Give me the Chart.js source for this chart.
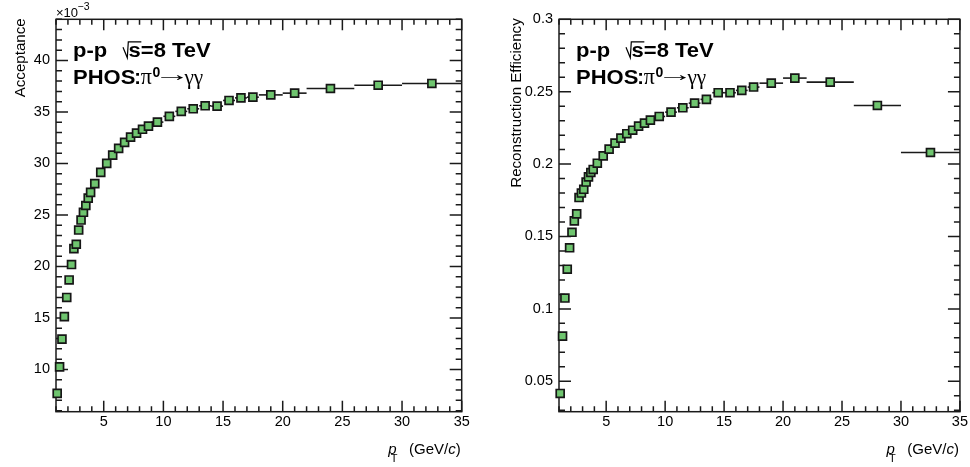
<!DOCTYPE html>
<html>
<head>
<meta charset="utf-8">
<script src="https://cdn.jsdelivr.net/npm/chart.js@4/dist/chart.umd.min.js"></script>
<style>
  html, body { margin: 0; padding: 0; background: #fff; }
  #wrap { position: relative; width: 970px; height: 467px; }
  .pad { position: absolute; top: 0; width: 485px; height: 467px; }
</style>
</head>
<body>
<div id="wrap">
  <div class="pad" style="left:0"><canvas id="accChart" width="485" height="467"></canvas></div>
  <div class="pad" style="left:485px"><canvas id="effChart" width="485" height="467"></canvas></div>
</div>
<script>
// pT bin edges, GeV/c
const ptEdges = [1.0, 1.2, 1.4, 1.6, 1.8, 2.0, 2.2, 2.4, 2.6, 2.8, 3.0, 3.2, 3.4, 3.6, 3.8, 4.0,
    4.5, 5.0, 5.5, 6.0, 6.5, 7.0, 7.5, 8.0, 8.5, 9.0,
    10, 11, 12, 13, 14, 15, 16, 17, 18, 20, 22, 26, 30, 35];

// geometric acceptance per bin, in units of 10^-3
const acceptance = [7.68, 10.25, 12.95, 15.13, 16.99, 18.69, 20.19, 21.73, 22.16, 23.54,
    24.51, 25.26, 25.92, 26.64, 27.20, 28.05, 29.14, 30.01, 30.81, 31.47,
    32.05, 32.56, 32.95, 33.32, 33.63, 34.02, 34.58, 35.06, 35.31, 35.60,
    35.57, 36.12, 36.37, 36.44, 36.66, 36.83, 37.28, 37.60, 37.77];

// reconstruction efficiency per bin
const efficiency = [0.0416, 0.0812, 0.1075, 0.1274, 0.1422, 0.1529, 0.1608, 0.1656, 0.1769, 0.1800,
    0.1826, 0.1876, 0.1912, 0.1942, 0.1963, 0.2006, 0.2057, 0.2103, 0.2145, 0.2179,
    0.2210, 0.2234, 0.2262, 0.2283, 0.2304, 0.2329, 0.2359, 0.2389, 0.2421, 0.2447,
    0.2493, 0.2493, 0.2509, 0.2532, 0.2559, 0.2594, 0.2566, 0.2405, 0.2080];

const ptTicks = [5, 10, 15, 20, 25, 30, 35];
const accTicks = [10, 15, 20, 25, 30, 35, 40];
const effTicks = [0.05, 0.1, 0.15, 0.2, 0.25, 0.3];

Chart.defaults.font.family = '"Liberation Sans", Arial, sans-serif';
Chart.defaults.color = '#000';

function binPoints(values) {
    return values.map((v, i) => ({ x: (ptEdges[i] + ptEdges[i + 1]) / 2, y: v, xlo: ptEdges[i], xhi: ptEdges[i + 1] }));
}

// text drawn with a slight horizontal stretch (Helvetica-like proportions)
function stretchText(ctx, text, x, y, sx) {
    ctx.save();
    ctx.translate(x, y);
    ctx.scale(sx, 1);
    ctx.fillText(text, 0, 0);
    var w = ctx.measureText(text).width * sx;
    ctx.restore();
    return w;
}

// draws a glyph so that its ink spans exactly [x, x + inkWidth]
function fitText(ctx, text, x, y, inkWidth) {
    var m = ctx.measureText(text);
    var ink = m.actualBoundingBoxLeft + m.actualBoundingBoxRight;
    var sx = inkWidth / ink;
    ctx.save();
    ctx.translate(x + m.actualBoundingBoxLeft * sx, y);
    ctx.scale(sx, 1);
    ctx.fillText(text, 0, 0);
    ctx.restore();
}

function minorValues(min, max, step) {
    var out = [];
    for (var k = Math.ceil(min / step - 1e-9); k * step <= max + 1e-9; k++) out.push(k * step);
    return out;
}

// horizontal bars = pT bin width of each point
const binWidthBars = {
    id: 'binWidthBars',
    beforeDatasetsDraw(chart) {
        var ctx = chart.ctx, xs = chart.scales.x, ys = chart.scales.y;
        ctx.save();
        ctx.strokeStyle = '#1a1a1a';
        ctx.lineWidth = 1.6;
        chart.data.datasets[0].data.forEach(p => {
            var y = ys.getPixelForValue(p.y);
            ctx.beginPath();
            ctx.moveTo(xs.getPixelForValue(p.xlo), y);
            ctx.lineTo(xs.getPixelForValue(p.xhi), y);
            ctx.stroke();
        });
        ctx.restore();
    }
};

// box frame with inward ticks on all four sides
const rootFrame = {
    id: 'rootFrame',
    beforeDatasetsDraw(chart, args, opts) {
        var ctx = chart.ctx, a = chart.chartArea, xs = chart.scales.x, ys = chart.scales.y;
        var isMajor = (list, v) => list.some(m => Math.abs(m - v) < 1e-9);
        ctx.save();
        ctx.strokeStyle = '#1a1a1a';
        ctx.lineWidth = 1.5;
        ctx.strokeRect(a.left, a.top, a.right - a.left, a.bottom - a.top);
        ctx.beginPath();
        minorValues(xs.min, xs.max, opts.xMinor).forEach(v => {
            var len = isMajor(opts.xMajor, v) ? 11 : 5.5;
            var px = xs.getPixelForValue(v);
            ctx.moveTo(px, a.bottom); ctx.lineTo(px, a.bottom - len);
            ctx.moveTo(px, a.top); ctx.lineTo(px, a.top + len);
        });
        minorValues(ys.min, ys.max, opts.yMinor).forEach(v => {
            var len = isMajor(opts.yMajor, v) ? 12 : 6;
            var py = ys.getPixelForValue(v);
            ctx.moveTo(a.left, py); ctx.lineTo(a.left + len, py);
            ctx.moveTo(a.right, py); ctx.lineTo(a.right - len, py);
        });
        ctx.stroke();
        ctx.restore();
    }
};

function drawTag(ctx, x0) {
    var sx = 1.1;
    ctx.fillStyle = '#000';
    ctx.textAlign = 'left';
    ctx.textBaseline = 'alphabetic';

    // p-p  sqrt(s)=8 TeV
    var b1 = 57.3;
    ctx.font = 'bold 20px "Liberation Sans"';
    stretchText(ctx, 'p-p', x0, b1, sx);
    var rx = x0 + 50, sxStart = x0 + 55.6;
    var sW = ctx.measureText('s').width * sx;
    stretchText(ctx, 's=8 TeV', sxStart, b1, sx);
    ctx.strokeStyle = '#000';
    ctx.lineWidth = 1.2;
    ctx.beginPath();
    ctx.moveTo(rx, b1 - 10);
    ctx.lineTo(rx + 4.3, b1 + 0.5);
    ctx.lineTo(rx + 5.3, b1 - 15.5);
    ctx.lineTo(sxStart + sW + 0.5, b1 - 15.5);
    ctx.stroke();

    // PHOS: pi0 -> gamma gamma
    var b2 = 84.3;
    ctx.font = 'bold 20px "Liberation Sans"';
    stretchText(ctx, 'PHOS', x0, b2, sx);
    stretchText(ctx, ':', x0 + 61.2, b2, 1.0);
    ctx.font = '23px "Liberation Serif"';
    fitText(ctx, 'π', x0 + 67.8, b2, 11.5);
    ctx.font = 'bold 14px "Liberation Sans"';
    stretchText(ctx, '0', x0 + 79.5, 77, 1.0);
    ctx.font = '20px "Liberation Serif", "DejaVu Serif"';
    fitText(ctx, '→', x0 + 88, b2 - 3.8, 22);
    ctx.font = '22px "Liberation Serif"';
    fitText(ctx, 'γγ', x0 + 110.5, b2, 20);
}

function drawPtTitle(ctx, right) {
    var base = 454;
    ctx.fillStyle = '#000';
    ctx.textAlign = 'left';
    ctx.textBaseline = 'alphabetic';
    ctx.font = '15px "Liberation Sans"';
    var wA = ctx.measureText('(GeV/').width, wB = ctx.measureText(')').width;
    ctx.font = 'italic 15px "Liberation Sans"';
    var wC = ctx.measureText('c').width;
    var x = right - 1 - (wA + wB + wC);
    ctx.font = '15px "Liberation Sans"';
    ctx.fillText('(GeV/', x, base);
    ctx.font = 'italic 15px "Liberation Sans"';
    ctx.fillText('c', x + wA, base);
    ctx.font = '15px "Liberation Sans"';
    ctx.fillText(')', x + wA + wC, base);
    ctx.font = 'italic 15px "Liberation Sans"';
    ctx.fillText('p', right - 73.4, base);
    ctx.font = '11px "Liberation Sans"';
    ctx.fillText('T', right - 71, 462.3);
}

const padText = {
    id: 'padText',
    afterDraw(chart, args, opts) {
        var ctx = chart.ctx, a = chart.chartArea;
        ctx.save();
        drawTag(ctx, a.left + 17);
        drawPtTitle(ctx, a.right);

        // vertical axis title, flush with the top of the frame
        ctx.save();
        ctx.translate(opts.yTitleX, a.top - 1);
        ctx.rotate(-Math.PI / 2);
        ctx.scale(1.08, 1);
        ctx.font = '14px "Liberation Sans"';
        ctx.textAlign = 'right';
        ctx.textBaseline = 'alphabetic';
        ctx.fillStyle = '#000';
        ctx.fillText(opts.yTitle, 0, 0);
        ctx.restore();

        if (opts.exponent) {
            ctx.font = '13px "Liberation Sans"';
            ctx.textAlign = 'left';
            ctx.fillText('×10', a.left, 16.7);
            var w = ctx.measureText('×10').width;
            ctx.font = '10.5px "Liberation Sans"';
            ctx.fillText(opts.exponent, a.left + w - 0.5, 10);
        }
        ctx.restore();
    }
};

function renderPad(canvasId, values, yRange, yTicks, yMinor, yAxisWidth, padRight, yTitle, yTitleX, exponent) {
    var ctx = document.getElementById(canvasId);
    new Chart(ctx, {
        type: 'scatter',
        data: {
            datasets: [{
                data: binPoints(values),
                pointStyle: 'rect',
                pointRadius: 5.6,
                pointHoverRadius: 5.6,
                pointBackgroundColor: '#6fc56f',
                pointBorderColor: '#161616',
                pointBorderWidth: 1.7,
                clip: false
            }]
        },
        options: {
            responsive: false, animation: false, events: [],
            layout: { padding: { left: 0, top: 19.3, right: padRight, bottom: 0 } },
            plugins: {
                legend: { display: false }, tooltip: { enabled: false },
                rootFrame: { xMajor: ptTicks, xMinor: 1, yMajor: yTicks, yMinor: yMinor },
                padText: { yTitle: yTitle, yTitleX: yTitleX, exponent: exponent }
            },
            scales: {
                x: {
                    type: 'linear', min: 1, max: 35,
                    afterBuildTicks: s => { s.ticks = ptTicks.map(v => ({ value: v })); },
                    afterFit: s => { s.height = 55.3; },
                    grid: { display: false, drawTicks: false }, border: { display: false },
                    ticks: { font: { size: 14.5 }, color: '#000', padding: 2, maxRotation: 0, autoSkip: false, callback: v => String(v) }
                },
                y: {
                    type: 'linear', min: yRange[0], max: yRange[1],
                    afterBuildTicks: s => { s.ticks = yTicks.map(v => ({ value: v })); },
                    afterFit: s => { s.width = yAxisWidth; },
                    grid: { display: false, drawTicks: false }, border: { display: false },
                    ticks: { font: { size: 14.5 }, color: '#000', padding: 6, autoSkip: false, callback: v => String(v) }
                }
            }
        },
        plugins: [rootFrame, binWidthBars, padText]
    });
}

renderPad('accChart', acceptance, [5.9, 44], accTicks, 1, 56, 23.3, 'Acceptance', 25, '−3');
renderPad('effChart', efficiency, [0.029, 0.3], effTicks, 0.01, 74, 5, 'Reconstruction Efficiency', 35.7, null);
</script>
</body>
</html>
